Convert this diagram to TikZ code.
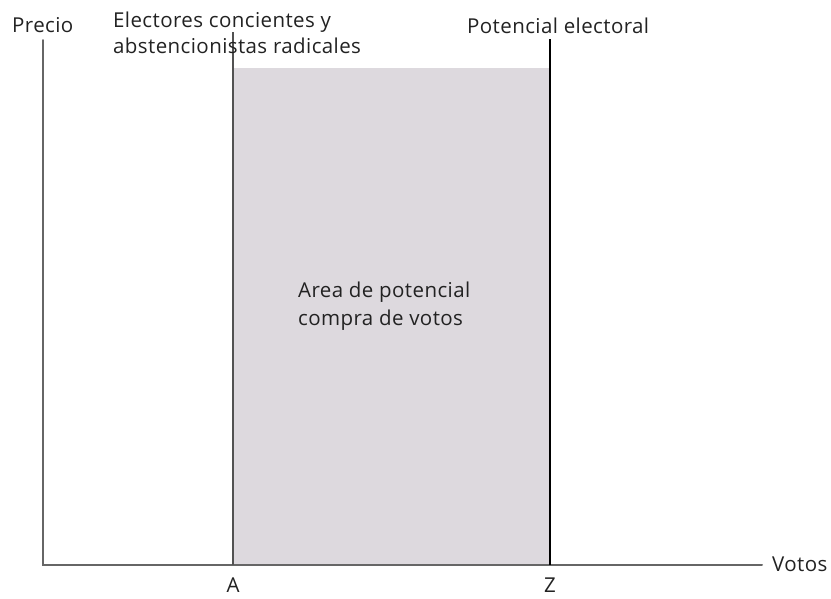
\documentclass[tikz,border=0pt]{standalone}
\usepackage{fontspec}
\setmainfont{Open Sans}[LetterSpace=2]
\definecolor{areafill}{HTML}{DDD9DE}
\definecolor{axisgray}{HTML}{666666}
\definecolor{txt}{HTML}{222222}
\begin{document}
\begin{tikzpicture}[x=1pt,y=-1pt,
  lbl/.style={text=txt,font=\fontsize{20.5}{26}\selectfont,inner sep=0pt},
  axisline/.style={draw=axisgray,line width=2pt},
  bound/.style={draw=black,line width=2pt}]
\useasboundingbox (0,0) rectangle (831,598);
\coordinate (O) at (43,565);
\coordinate (ytop) at (43,40);
\coordinate (xend) at (762,565);
\coordinate (Abot) at (233,565);
\coordinate (Atop) at (233,32);
\coordinate (Zbot) at (550,565);
\coordinate (Ztop) at (550,39);
\fill[areafill] (233,68) rectangle (550,565);
\draw[axisline,line cap=round] (ytop) -- (O) -- (xend);
\draw[draw=axisgray!80!black,line width=1.5pt] (Atop) -- (Abot);
\draw[bound] (Ztop) -- (Zbot);
\node[lbl,anchor=base west] (precio) at (12,32) {Precio};
\node[lbl,anchor=base west] (votos) at (772,571) {Votos};
\node[lbl,anchor=base] (A) at (233,592) {A};
\node[lbl,anchor=base] (Z) at (550,592) {Z};
\node[lbl,anchor=base west] (pot) at (467,33) {Potencial electoral};
\node[lbl,anchor=base west] (elec1) at (113,27) {Electores concientes y};
\node[lbl,anchor=base west] (elec2) at (113,53) {abstencionistas radicales};
\node[lbl,anchor=base west] (area1) at (298,297) {Area de potencial};
\node[lbl,anchor=base west] (area2) at (298,325) {compra de votos};
\end{tikzpicture}
\end{document}
